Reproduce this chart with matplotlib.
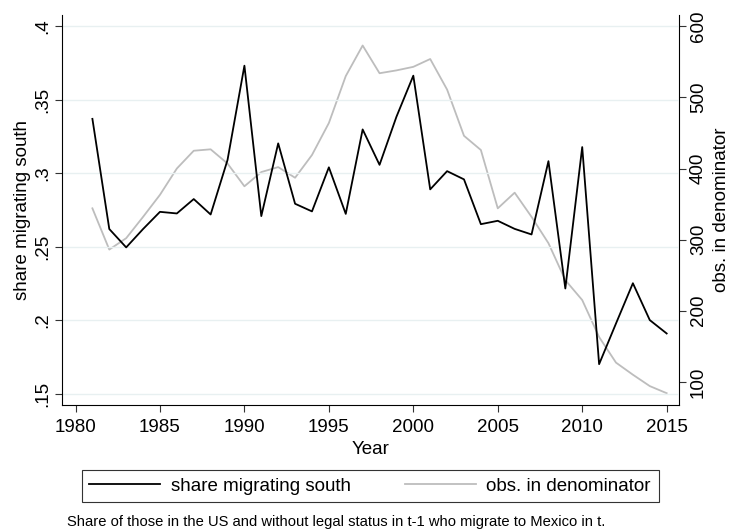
import matplotlib
matplotlib.use('Agg')
import matplotlib.pyplot as plt

plt.rcParams['font.family'] = ['Liberation Sans', 'DejaVu Sans']

years = list(range(1981, 2016))
share_south = [0.337, 0.262, 0.2495, 0.262, 0.2737, 0.2726, 0.2824, 0.2719, 0.309, 0.3732,
               0.2708, 0.3203, 0.2792, 0.274, 0.304, 0.2723, 0.3298, 0.3057, 0.3384, 0.3664,
               0.289, 0.3014, 0.2958, 0.2653, 0.2676, 0.2621, 0.2583, 0.3082, 0.2215, 0.3178,
               0.170, 0.1977, 0.2251, 0.200, 0.1909]
obs_denom = [344, 286, 302, 332, 363, 400, 425, 427, 407, 375,
             395, 402, 387, 419, 464, 530, 573, 534, 538, 543,
             554, 511, 446, 426, 344, 366, 332, 295, 243, 215,
             163, 127, 110, 94, 84]

left_ticks = [0.15, 0.2, 0.25, 0.3, 0.35, 0.4]
left_labels = ['.15', '.2', '.25', '.3', '.35', '.4']
right_ticks = [100, 200, 300, 400, 500, 600]
x_ticks = [1980, 1985, 1990, 1995, 2000, 2005, 2010, 2015]

fig = plt.figure(figsize=(7.3, 5.29), dpi=100)
ax = fig.add_axes([62/730, 1 - 405/529, (679 - 62)/730, (405 - 15)/529])
ax2 = ax.twinx()

fs = 13.5

ax.plot(years, share_south, color='black', lw=1.3, label='share migrating south', zorder=3)
ln2, = ax2.plot(years, obs_denom, color='#bdbdbd', lw=1.3, label='obs. in denominator')
ax.set_zorder(ax2.get_zorder() + 1)
ax.patch.set_visible(False)

ax.set_xlim(1979.2, 2015.73)
ax.set_ylim(0.1422, 0.4077)
ax2.set_ylim(67.4, 615.9)

ax.set_xticks(x_ticks)
ax.set_xticklabels([str(t) for t in x_ticks], fontsize=fs)
ax.set_yticks(left_ticks)
ax.set_yticklabels(left_labels, fontsize=fs, rotation=90, va='center')
ax2.set_yticks(right_ticks)
ax2.set_yticklabels([str(t) for t in right_ticks], fontsize=fs, rotation=90, va='center')

ax.grid(axis='y', color='#e8f0f1', lw=1.0)
ax.grid(axis='x', visible=False)

for a in (ax, ax2):
    a.spines['top'].set_visible(False)
    a.tick_params(direction='out', length=5, width=0.8, color='#333333', pad=3)
ax.tick_params(axis='x', pad=5)
ax.spines['right'].set_visible(False)
ax2.spines['left'].set_visible(False)
ax2.spines['bottom'].set_visible(False)

ax.set_xlabel('Year', fontsize=fs, labelpad=4)
ax.set_ylabel('share migrating south', fontsize=fs, labelpad=2)
ax2.set_ylabel('obs. in denominator', fontsize=fs, labelpad=4)

h1, l1 = ax.get_legend_handles_labels()
leg = fig.legend(h1 + [ln2], l1 + ['obs. in denominator'], loc='center', ncol=2,
                 bbox_to_anchor=(77/730, 1 - 503/529, (663 - 77)/730, 34/529),
                 fancybox=False, edgecolor='#333333', fontsize=fs,
                 handlelength=3.8, handletextpad=0.55, columnspacing=2.9,
                 borderpad=0.4, borderaxespad=0, framealpha=1)
leg.get_frame().set_linewidth(0.8)

fig.text(67/730, 1 - 522/529, 'Share of those in the US and without legal status in t-1 who migrate to Mexico in t.',
         fontsize=10.6, va='center', ha='left')

fig.savefig('out.png', dpi=100)
